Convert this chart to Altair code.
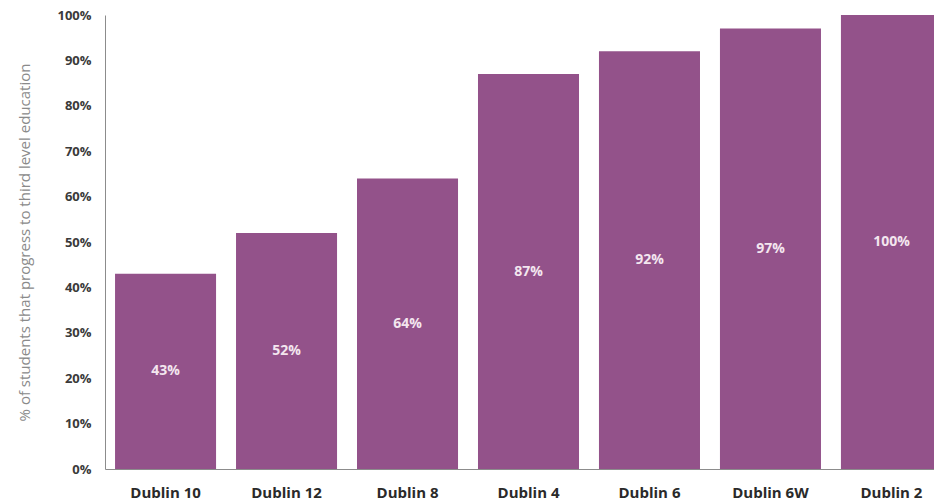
import altair as alt
import pandas as pd

# Third-level progression rate by Dublin postal district
districts = ["Dublin 10", "Dublin 12", "Dublin 8", "Dublin 4", "Dublin 6", "Dublin 6W", "Dublin 2"]
progress_pct = [43, 52, 64, 87, 92, 97, 100]

df = pd.DataFrame({"district": districts, "pct": progress_pct})
df["label"] = df["pct"].astype(str) + "%"
df["mid"] = df["pct"] / 2

BAR = "#93528A"
FONT = "Open Sans"

x_enc = alt.X(
    "district:N",
    sort=districts,
    title=None,
    scale=alt.Scale(range=[0, 847], paddingInner=0.165, paddingOuter=0.083),
    axis=alt.Axis(
        labelAngle=0, ticks=False, domainColor="#8c8c8c", labelFont=FONT,
        labelFontWeight="bold", labelFontSize=15, labelColor="#2a2a2a",
        labelPadding=16,
    ),
)

bars = alt.Chart(df).mark_bar(color=BAR, clip=True).encode(
    x=x_enc,
    y=alt.Y(
        "pct:Q",
        scale=alt.Scale(domain=[0, 100], nice=False),
        title="% of students that progress to third level education",
        axis=alt.Axis(
            values=list(range(0, 101, 10)), labelExpr="datum.value + '%'",
            ticks=False, grid=False, domainColor="#8c8c8c", labelFont=FONT,
            labelFontSize=13, labelFontWeight="bold", labelColor="#3a3a3a",
            labelPadding=14, titleFont=FONT, titleFontSize=15,
            titleFontWeight="normal", titleColor="#8a8a8a", titlePadding=24,
        ),
    ),
)

labels = alt.Chart(df).mark_text(
    color="#F3E6EF", font=FONT, fontSize=14, fontWeight="bold", baseline="middle", clip=True
).encode(
    x=alt.X("district:N", sort=districts),
    y=alt.Y("mid:Q"),
    text="label:N",
)

chart = (
    alt.layer(bars, labels)
    .properties(
        width=829,
        height=454,
        autosize=alt.AutoSizeParams(type="none"),
        padding={"left": 105, "top": 15, "right": 0, "bottom": 34},
        background="white",
    )
    .configure_view(stroke=None)
)

chart.save("out.html", embed_options={"renderer": "svg", "actions": False})
